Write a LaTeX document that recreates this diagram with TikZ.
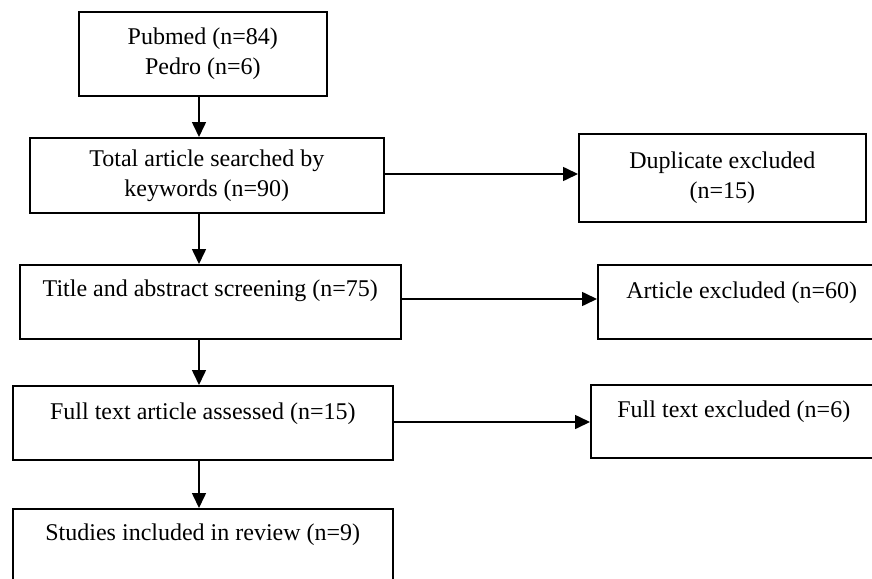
\documentclass[tikz,border=0pt]{standalone}
\usepackage{fontspec}
\setmainfont{Liberation Serif}
\usetikzlibrary{arrows.meta}
\begin{document}
\begin{tikzpicture}[x=1pt,y=-1pt,
  boxa/.style={draw, line width=1.6pt, inner sep=0pt, anchor=north west, align=center,
    font=\fontsize{24}{30}\selectfont},
  arr/.style={line width=1.6pt, -{Triangle[length=15pt,width=14pt]}}]
\useasboundingbox (0,0) rectangle (872,578);
\clip (0,0) rectangle (872,578);
\fill[white] (0,0) rectangle (872,578);

\node[boxa, minimum width=248pt, minimum height=84pt] (src) at (78,11) {Pubmed (n=84)\\Pedro (n=6)};
\node[boxa, minimum width=354pt, minimum height=75pt] (tot) at (29,137) {Total article searched by\\keywords (n=90)};
\node[boxa, minimum width=287pt, minimum height=88pt] (dup) at (578,133) {Duplicate excluded\\(n=15)};
\node[boxa, minimum width=381pt, text height=32pt, text depth=42pt] (scr) at (19,264) {Title and abstract screening (n=75)};
\node[boxa, minimum width=288pt, text height=34pt, text depth=40pt] (art) at (597,264) {Article excluded (n=60)};
\node[boxa, minimum width=380pt, text height=34pt, text depth=40pt] (ful) at (12,385) {Full text article assessed (n=15)};
\node[boxa, minimum width=286pt, text height=33pt, text depth=40pt] (fte) at (590,384) {Full text excluded (n=6)};
\node[boxa, minimum width=380pt, text height=32pt, text depth=45pt] (inc) at (12,508) {Studies included in review (n=9)};

\coordinate (ax) at (199,0);
\coordinate (ay1) at (0,174);
\coordinate (ay2) at (0,299);
\coordinate (ay3) at (0,422);
\draw[arr] (src.south -| ax) -- (tot.north -| ax);
\draw[arr] (tot.south -| ax) -- (scr.north -| ax);
\draw[arr] (scr.south -| ax) -- (ful.north -| ax);
\draw[arr] (ful.south -| ax) -- (inc.north -| ax);
\draw[arr] (tot.east |- ay1) -- (dup.west |- ay1);
\draw[arr] (scr.east |- ay2) -- (art.west |- ay2);
\draw[arr] (ful.east |- ay3) -- (fte.west |- ay3);
\end{tikzpicture}
\end{document}
